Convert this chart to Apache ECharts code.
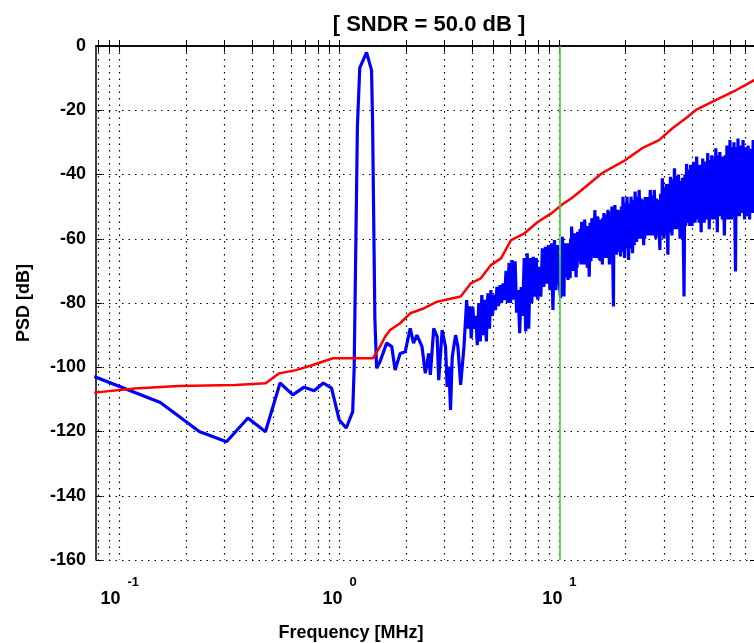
<!DOCTYPE html>
<html>
<head>
<meta charset="utf-8">
<script src="https://cdn.jsdelivr.net/npm/echarts@6/dist/echarts.min.js"></script>
<style>
html,body{margin:0;padding:0;background:#fff;}
#chart{width:754px;height:643px;}
</style>
</head>
<body>
<div id="chart"></div>
<script>
// ---- data ----
const blueFreqMHz = [
  0.0766, 0.153, 0.230, 0.306, 0.383, 0.460, 0.536, 0.613, 0.689, 0.766, 0.843, 0.919, 0.996, 1.072, 1.147,
  1.165, 1.205, 1.235, 1.326, 1.397, 1.412, 1.447, 1.473,
  1.526, 1.637, 1.727, 1.788, 1.885, 1.987, 2.095, 2.169, 2.248, 2.370, 2.454, 2.541, 2.587, 2.679, 2.777,
  2.824, 2.927, 3.031, 3.086, 3.139, 3.195, 3.253, 3.369, 3.452, 3.552, 3.678,
  3.784, 3.844, 3.906, 3.968, 4.032, 4.096, 4.162, 4.228, 4.296, 4.364, 4.434, 4.505, 4.577, 4.650, 4.724,
  4.800, 4.876, 4.954, 5.033, 5.114, 5.195, 5.278, 5.363, 5.448, 5.535, 5.624, 5.714, 5.805, 5.898, 5.992,
  6.088, 6.185, 6.284, 6.384, 6.486, 6.590, 6.695, 6.802, 6.911, 7.021, 7.133, 7.247, 7.363, 7.480, 7.600,
  7.721, 7.844, 7.970, 8.097, 8.226, 8.358, 8.491, 8.627, 8.764, 8.904, 9.047, 9.191, 9.338, 9.487, 9.638,
  9.792, 9.948, 10.11,
  10.32, 10.48, 10.54, 10.59,
  10.65, 10.94,
  11.00, 11.18, 11.24, 11.29,
  11.35, 11.53, 11.59, 11.65,
  11.71, 11.90, 11.97, 12.03,
  12.10, 12.29, 12.40, 12.51,
  12.62, 12.82, 12.89, 12.95,
  13.02, 13.23, 13.30, 13.37,
  13.44, 13.66, 13.78, 13.90,
  14.03, 14.25, 14.33, 14.40,
  14.48, 14.71, 14.79, 14.86,
  14.94, 15.18, 15.26, 15.35,
  15.43, 15.67, 15.75, 15.84,
  15.92, 16.17, 16.31, 16.45,
  16.60, 16.87, 17.02, 17.17,
  17.32, 17.60, 17.69, 17.78,
  17.87, 18.16, 18.32, 18.48,
  18.65, 18.95, 19.12, 19.28,
  19.45, 19.77, 19.94, 20.12,
  20.29, 20.62, 20.80, 20.98,
  21.16, 21.50, 21.69, 21.88,
  22.08, 22.43, 22.63, 22.83,
  23.03, 23.40, 23.52, 23.65,
  23.77, 24.15, 24.28, 24.40,
  24.53, 24.93, 25.24, 25.55,
  25.87, 26.28, 26.51, 26.74,
  26.98, 27.42, 27.66, 27.91,
  28.16, 28.61, 28.86, 29.11,
  29.37, 29.84, 30.10, 30.36,
  30.63, 31.12, 31.40, 31.67,
  31.96, 32.47, 32.75, 33.04,
  33.33, 33.87, 34.17, 34.47,
  34.77, 35.33, 35.64, 35.95,
  36.27, 36.85, 37.18, 37.51,
  37.84, 38.44, 38.78, 39.12,
  39.47, 40.10, 40.31, 40.52,
  40.74, 41.39, 41.61, 41.83,
  42.05, 42.72, 42.95, 43.18,
  43.41, 44.10, 44.33, 44.57,
  44.81, 45.53, 46.09, 46.66,
  47.24, 48.00, 48.42, 48.85,
  49.28, 50.07, 50.51, 50.95,
  51.40, 52.22, 52.68, 53.15,
  53.62, 54.48, 54.77, 55.06,
  55.35, 56.24, 56.74, 57.24,
  57.74, 58.66, 58.97, 59.28,
  59.59, 60.55, 61.08, 61.62,
  62.17, 63.17, 63.73, 64.29,
  64.85, 65.89, 66.71, 67.54,
  68.37, 69.46, 70.32, 71.19,
  72.08, 73.23, 74.14, 75.06,
  75.99, 77.21, 77.89, 78.57,
  79.26, 80.11
];
const bluePsdDb = [
  -102.9, -111.0, -120.0, -123.2, -115.8, -120.1, -104.9, -108.6, -106.2, -107.3, -104.9, -106.5, -116.4, -118.9, -113.8,
  -100.0, -25.0, -6.8, -2.0, -7.5, -23.0, -85.0, -100.3,
  -98.3, -92.5, -93.6, -100.9, -95.7, -95.2, -87.9, -92.5, -90.0, -93.6, -101.9, -95.7, -102.4, -87.9, -90.5,
  -104.0, -88.4, -93.6, -106.1, -99.8, -113.3, -96.7, -90.0, -93.6, -105.5, -93.6,
  -79.1, -88.0, -81.0, -91.0, -81.2, -88.0, -84.0, -93.1, -80.0, -92.0, -77.5, -90.0, -79.0, -92.0, -77.0,
  -88.0, -76.0, -84.0, -77.5, -82.2, -75.0, -81.0, -74.4, -80.0, -73.9, -79.1, -70.0, -80.0, -67.5, -80.0,
  -66.6, -79.0, -67.0, -83.0, -76.0, -89.4, -75.0, -84.0, -66.0, -88.9, -64.5, -88.0, -66.0, -80.0, -65.6,
  -78.0, -66.0, -79.0, -68.7, -78.0, -63.0, -75.0, -62.5, -74.0, -62.0, -76.0, -61.4, -82.2, -60.4, -76.0,
  -62.0, -72.0, -78.5,
  -59.4, -78.0, -62.0, -72.0,
  -61.4, -72.8,
  -61.4, -72.3, -60.0, -70.0,
  -56.2, -67.6, -58.5, -70.0,
  -58.3, -72.0, -59.0, -69.0,
  -57.8, -67.0, -57.0, -68.0,
  -54.7, -66.0, -56.0, -68.0,
  -54.0, -66.0, -56.0, -69.0,
  -56.0, -71.8, -55.0, -67.0,
  -53.6, -64.0, -53.5, -66.0,
  -51.1, -64.4, -53.0, -66.0,
  -53.1, -66.5, -54.5, -67.0,
  -54.0, -68.0, -53.5, -66.0,
  -52.0, -66.0, -52.5, -66.0,
  -51.0, -68.0, -51.5, -65.0,
  -50.0, -81.1, -51.0, -65.0,
  -49.5, -65.0, -51.0, -64.0,
  -51.1, -65.5, -50.0, -64.0,
  -46.9, -66.0, -49.0, -63.0,
  -46.9, -66.6, -49.0, -63.0,
  -46.9, -64.5, -48.0, -62.0,
  -45.3, -61.0, -47.0, -60.0,
  -44.8, -60.0, -47.5, -60.0,
  -48.0, -62.0, -48.5, -60.0,
  -47.0, -59.0, -47.0, -59.0,
  -44.8, -59.0, -46.5, -59.0,
  -44.8, -60.0, -47.5, -59.0,
  -48.0, -63.5, -46.0, -59.0,
  -41.2, -60.0, -44.0, -59.0,
  -43.0, -65.0, -43.0, -58.0,
  -40.7, -59.0, -41.5, -57.0,
  -38.1, -57.0, -40.5, -57.0,
  -40.0, -60.0, -42.0, -57.0,
  -41.0, -78.0, -40.0, -56.0,
  -36.7, -55.0, -38.5, -56.0,
  -37.0, -56.0, -38.0, -55.0,
  -36.0, -55.0, -37.0, -54.0,
  -34.4, -54.0, -37.5, -55.0,
  -37.0, -58.0, -37.5, -55.0,
  -35.0, -55.0, -36.0, -54.0,
  -33.3, -57.0, -35.5, -54.0,
  -34.0, -54.0, -35.0, -54.0,
  -31.8, -58.0, -34.0, -53.0,
  -33.0, -53.0, -35.5, -54.0,
  -34.4, -59.0, -34.0, -54.0,
  -31.0, -54.0, -32.0, -53.0,
  -29.3, -54.0, -31.5, -53.0,
  -30.0, -70.2, -31.5, -53.0,
  -28.8, -53.0, -31.0, -52.0,
  -29.3, -54.0, -31.5, -53.0,
  -31.0, -54.0, -32.0, -52.0,
  -29.3, -52.0, -31.0, -51.0,
  -28.0, -50.0
];
const redFreqMHz = [
  0.0766, 0.1168, 0.1845, 0.336, 0.461, 0.531, 0.633, 0.755, 0.932, 1.42, 1.526, 1.61, 1.696, 1.885,
  2.095, 2.411, 2.777, 3.552, 3.947, 4.387, 4.876, 5.419, 6.023, 6.934, 7.985, 9.19, 10.21, 11.35,
  12.62, 15.59, 19.93, 23.77, 28.36, 32.64, 37.57, 41.75, 51.56, 63.72, 79.26
];
const redPsdDb = [
  -107.9, -106.6, -105.8, -105.5, -105.0, -101.9, -100.9, -99.3, -97.2, -97.2, -93.6, -90.5, -88.4, -86.3,
  -83.2, -81.7, -79.6, -78.0, -73.9, -72.3, -68.2, -66.1, -60.4, -58.3, -54.7, -52.1, -49.5, -47.4,
  -44.8, -39.6, -35.5, -31.8, -29.3, -25.6, -22.5, -19.9, -16.8, -13.7, -10.1
];
const markerFreqMHz = [10];
const xTickValues = [0.08, 0.09, 0.1, 0.2, 0.3, 0.4, 0.5, 0.6, 0.7, 0.8, 0.9, 1, 2, 3, 4, 5, 6, 7, 8, 9, 10, 20, 30, 40, 50, 60, 70];
const xLabelValues = [0.1, 1, 10];
const xLabelExponents = ['-1', '0', '1'];
const yMin = -160, yMax = 0, yStep = 20;
const xMin = 0.078, xMax = 78.3;
const titleText = '[ SNDR = 50.0 dB ]';
const xName = 'Frequency [MHz]';
const yName = 'PSD [dB]';

// ---- build ----
const FONT = "'Liberation Sans', Arial, Helvetica, sans-serif";
const zip = (a, b) => a.map((v, i) => [v, b[i]]);
const dotted = {color: '#000', width: 1.2, type: [1.5, 5]};
const axisLineStyle = {color: '#000', width: 1.5};

const chart = echarts.init(document.getElementById('chart'), null, {renderer: 'canvas'});
const option = {
  animation: false,
  backgroundColor: '#ffffff',
  title: [
    {text: titleText, left: 424, top: 9, textAlign: 'center',
     textStyle: {fontFamily: FONT, fontSize: 22, fontWeight: 'bold', color: '#000'}},
    {text: xName, left: 346, top: 619, textAlign: 'center',
     textStyle: {fontFamily: FONT, fontSize: 18, fontWeight: 'bold', color: '#000'}}
  ],
  grid: {left: 96, top: 46, width: 660, height: 514, containLabel: false, outerBoundsMode: 'none'},
  xAxis: [
    {
      type: 'log', logBase: 10, min: xMin, max: xMax, position: 'bottom',
      axisLine: {show: true, lineStyle: axisLineStyle},
      axisTick: {show: true, inside: true, length: 6, lineStyle: {color: '#000', width: 1}, customValues: xTickValues},
      splitLine: {show: true, lineStyle: dotted},
      minorTick: {show: false}, minorSplitLine: {show: false},
      axisLabel: {
        show: true, margin: 15, customValues: xLabelValues, hideOverlap: false,
        formatter: function (v) {
          let idx = 0;
          for (let i = 0; i < xLabelValues.length; i++) {
            if (Math.abs(xLabelValues[i] - v) / xLabelValues[i] < 1e-6) idx = i;
          }
          return '{sp|}{e|' + xLabelExponents[idx] + '}\n{b|10}';
        },
        rich: {
          b: {fontFamily: FONT, fontSize: 18, fontWeight: 'bold', color: '#000', lineHeight: 20, align: 'left'},
          e: {fontFamily: FONT, fontSize: 13, fontWeight: 'bold', color: '#000', lineHeight: 14, align: 'left'},
          sp: {width: 27, lineHeight: 14, align: 'left'}
        }
      }
    },
    {
      type: 'log', logBase: 10, min: xMin, max: xMax, position: 'top',
      axisLine: {show: true, lineStyle: axisLineStyle},
      axisTick: {show: true, inside: true, length: 6, lineStyle: {color: '#000', width: 1}, customValues: xTickValues},
      splitLine: {show: false}, axisLabel: {show: false}
    }
  ],
  yAxis: [
    {
      type: 'value', min: yMin, max: yMax, interval: yStep, position: 'left',
      name: yName, nameLocation: 'middle', nameGap: 63, nameRotate: 90,
      nameTextStyle: {fontFamily: FONT, fontSize: 18, fontWeight: 'bold', color: '#000'},
      axisLine: {show: true, lineStyle: axisLineStyle},
      axisTick: {show: true, inside: true, length: 6, lineStyle: {color: '#000', width: 1}},
      splitLine: {show: true, lineStyle: dotted},
      axisLabel: {show: true, margin: 10, fontFamily: FONT, fontSize: 18, fontWeight: 'bold', color: '#000'}
    },
    {
      type: 'value', min: yMin, max: yMax, interval: yStep, position: 'right',
      axisLine: {show: true, lineStyle: axisLineStyle},
      axisTick: {show: true, inside: true, length: 6, lineStyle: {color: '#000', width: 1}},
      splitLine: {show: false}, axisLabel: {show: false}
    }
  ],
  series: [
    {
      name: 'marker', type: 'line', xAxisIndex: 0, yAxisIndex: 0, data: [], z: 1,
      markLine: {
        silent: true, symbol: ['none', 'none'], label: {show: false},
        lineStyle: {color: '#33dd33', width: 1.6, type: 'solid'},
        data: markerFreqMHz.map(f => ({xAxis: f}))
      }
    },
    {
      name: 'PSD', type: 'line', xAxisIndex: 0, yAxisIndex: 0, z: 2,
      data: zip(blueFreqMHz, bluePsdDb), showSymbol: false, symbol: 'none',
      lineStyle: {color: '#0000ff', width: 3.2}, clip: true
    },
    {
      name: 'Envelope', type: 'line', xAxisIndex: 0, yAxisIndex: 0, z: 3,
      data: zip(redFreqMHz, redPsdDb), showSymbol: false, symbol: 'none',
      lineStyle: {color: '#ff0000', width: 2.5}, clip: true
    }
  ]
};
chart.setOption(option);
</script>
</body>
</html>
